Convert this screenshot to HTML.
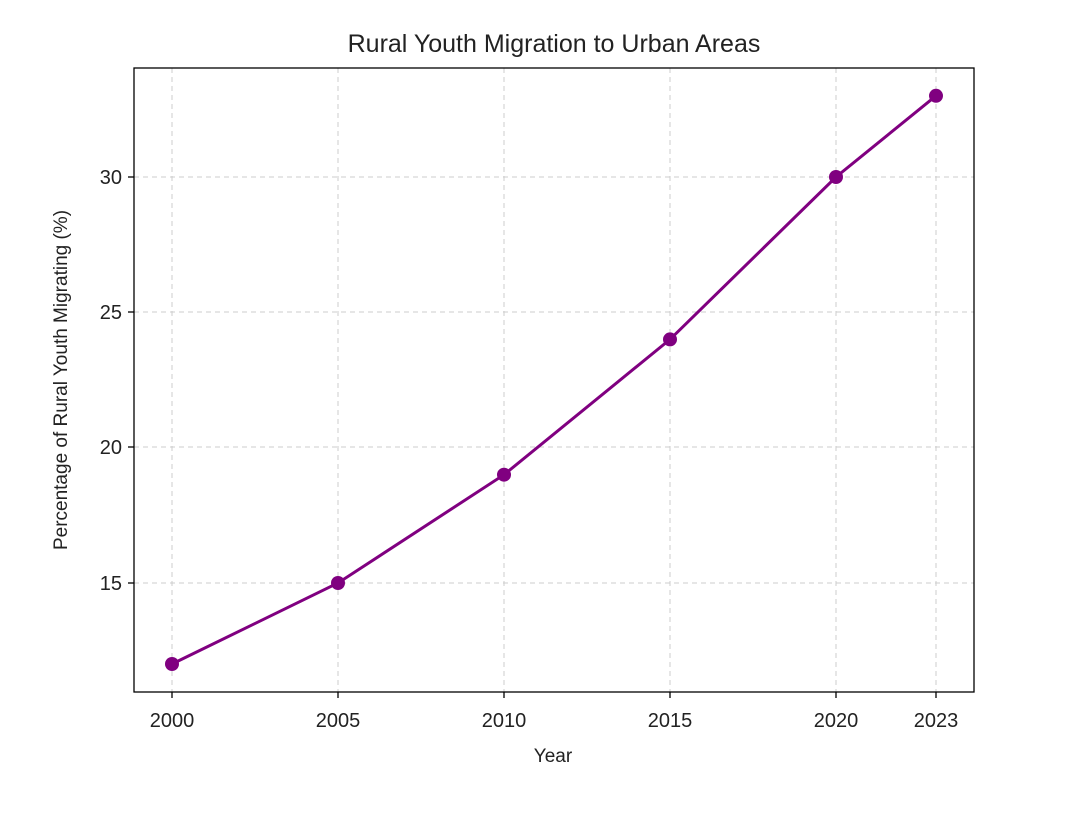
<!DOCTYPE html>
<html><head><meta charset="utf-8"><style>
body{margin:0;background:#fff;}
svg text{font-family:"Liberation Sans","DejaVu Sans",sans-serif;fill:#222;}
</style></head><body>
<svg width="1080" height="817" viewBox="0 0 1080 817" xmlns="http://www.w3.org/2000/svg">
<rect width="1080" height="817" fill="#fff"/>
<text x="554" y="52" font-size="25" text-anchor="middle">Rural Youth Migration to Urban Areas</text>
<g stroke="#cccccc" stroke-width="1" stroke-dasharray="5,4">
<line x1="172" y1="68" x2="172" y2="692"/>
<line x1="338" y1="68" x2="338" y2="692"/>
<line x1="504" y1="68" x2="504" y2="692"/>
<line x1="670" y1="68" x2="670" y2="692"/>
<line x1="836" y1="68" x2="836" y2="692"/>
<line x1="936" y1="68" x2="936" y2="692"/>
<line x1="134" y1="583" x2="974" y2="583"/>
<line x1="134" y1="447" x2="974" y2="447"/>
<line x1="134" y1="312" x2="974" y2="312"/>
<line x1="134" y1="177" x2="974" y2="177"/>
</g>
<rect x="134" y="68" width="840" height="624" fill="none" stroke="#000" stroke-width="1.3"/>
<g stroke="#000" stroke-width="1.3">
<line x1="172" y1="692" x2="172" y2="698"/><line x1="338" y1="692" x2="338" y2="698"/>
<line x1="504" y1="692" x2="504" y2="698"/><line x1="670" y1="692" x2="670" y2="698"/>
<line x1="836" y1="692" x2="836" y2="698"/><line x1="936" y1="692" x2="936" y2="698"/>
<line x1="128" y1="583" x2="134" y2="583"/><line x1="128" y1="447" x2="134" y2="447"/>
<line x1="128" y1="312" x2="134" y2="312"/><line x1="128" y1="177" x2="134" y2="177"/>
</g>
<g font-size="20" text-anchor="middle">
<text x="172" y="727">2000</text><text x="338" y="727">2005</text><text x="504" y="727">2010</text>
<text x="670" y="727">2015</text><text x="836" y="727">2020</text><text x="936" y="727">2023</text>
</g>
<g font-size="20" text-anchor="end">
<text x="122" y="590">15</text><text x="122" y="454">20</text><text x="122" y="319">25</text><text x="122" y="184">30</text>
</g>
<text x="553" y="762" font-size="19" text-anchor="middle">Year</text>
<text transform="translate(67,380) rotate(-90)" font-size="19" text-anchor="middle">Percentage of Rural Youth Migrating (%)</text>
<polyline points="172,664 338,583 504,474.7 670,339.4 836,177 936,95.8" fill="none" stroke="#800080" stroke-width="3"/>
<g fill="#800080">
<circle cx="172" cy="664" r="7"/><circle cx="338" cy="583" r="7"/><circle cx="504" cy="474.7" r="7"/>
<circle cx="670" cy="339.4" r="7"/><circle cx="836" cy="177" r="7"/><circle cx="936" cy="95.8" r="7"/>
</g>
</svg>
</body></html>
